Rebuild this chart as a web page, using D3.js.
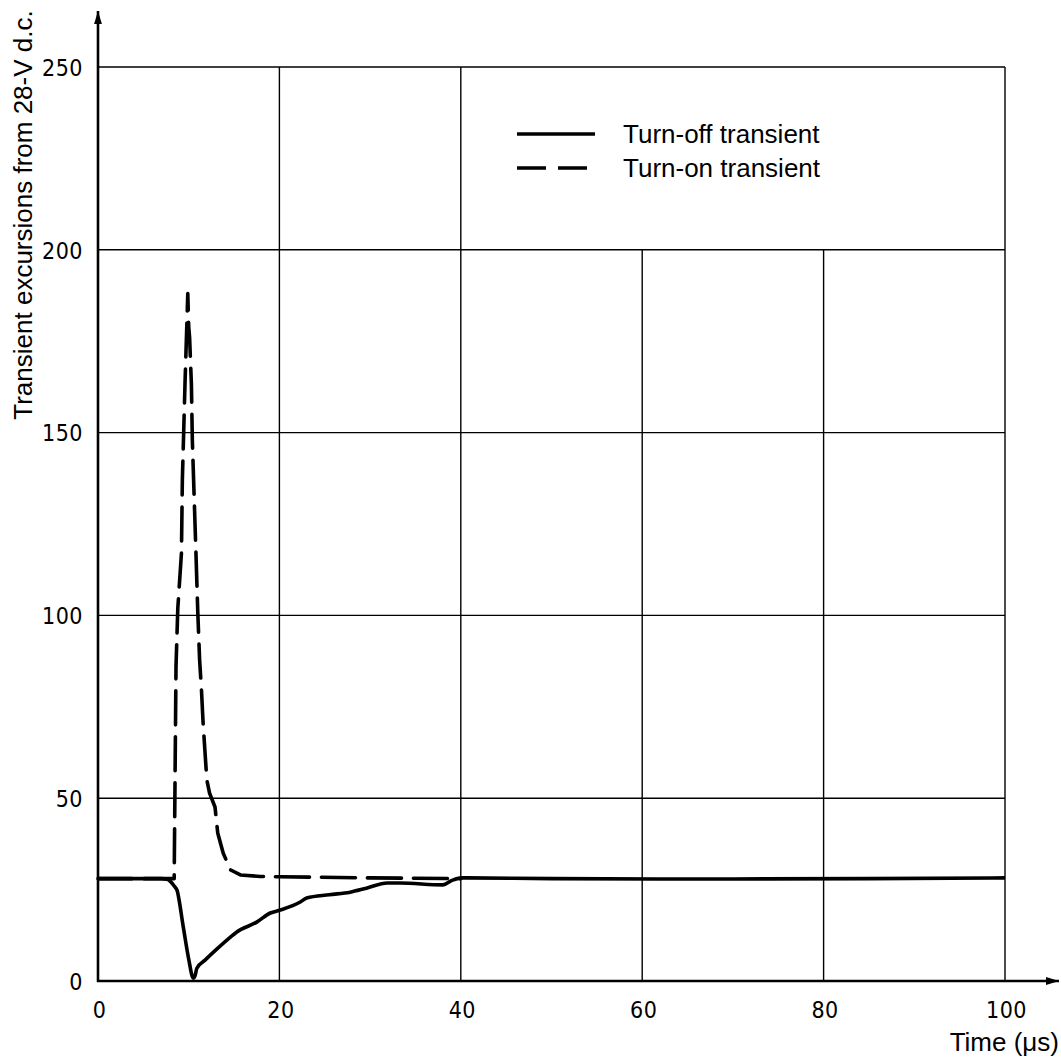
<!DOCTYPE html>
<html>
<head>
<meta charset="utf-8">
<script src="https://cdn.jsdelivr.net/npm/d3@7"></script>
<style>
  body { margin: 0; background: #fff; }
  .tick text { font-family: "Liberation Sans Narrow", "DejaVu Sans Condensed", sans-serif; letter-spacing: 0.5px; }
</style>
</head>
<body>
<svg id="chart" width="1061" height="1057"></svg>
<script>
// axis ticks
var timeTicks = [0, 20, 40, 60, 80, 100];
var voltTicks = [0, 50, 100, 150, 200, 250];

// turn-on transient (dashed)
var turnOnT = [0, 8.4, 8.6, 8.8, 9.2, 9.3, 9.6, 9.9, 10.0, 10.1, 10.3, 10.4, 10.8, 11.0, 11.2, 11.4, 11.6, 12.0, 12.3, 12.9, 13.2, 13.8, 14.6, 15.7, 17.9, 20, 30, 40];
var turnOnV = [28, 28, 86, 102, 117, 137, 164, 188, 179, 176, 163, 148, 117, 101, 88, 80, 70, 55, 51.4, 47.6, 40.5, 35, 30.4, 29.0, 28.6, 28.5, 28.2, 28];

// turn-off transient (solid)
var turnOffT = [0, 7.0, 7.6, 8.0, 8.4, 8.7, 9.4, 10.0, 10.5, 10.7, 10.9, 11.8, 13.0, 14.6, 15.3, 17.5, 19.0, 20.1, 22.3, 23.0, 25.5, 27.8, 29.6, 31.9, 33.3, 38.0, 39.1, 40.2, 50, 70, 85, 100];
var turnOffV = [28, 28, 27.8, 27.2, 26, 24.9, 14.8, 6, 0.8, 1.5, 3.5, 5.7, 8.5, 12, 13.4, 16.1, 18.6, 19.4, 21.6, 22.7, 23.6, 24.3, 25.4, 26.8, 26.8, 26.3, 27.6, 28.2, 28, 27.9, 28, 28.2];

var legendNames = ["Turn-off transient", "Turn-on transient"];

var svg = d3.select("#chart");

var x = d3.scaleLinear().domain([0, 100]).range([98, 1005]);
var y = d3.scaleLinear().domain([0, 250]).range([981, 67]);

// arrow head
svg.append("defs").append("marker")
    .attr("id", "arrow")
    .attr("viewBox", "0 0 10 10")
    .attr("refX", 10).attr("refY", 5)
    .attr("markerWidth", 7).attr("markerHeight", 5)
    .attr("markerUnits", "strokeWidth")
    .attr("orient", "auto")
  .append("path")
    .attr("d", "M0,2 L10,5 L0,8 Z")
    .attr("fill", "#000");

// grid
var grid = svg.append("g").attr("stroke", "#000").attr("stroke-width", 1.4);
grid.selectAll("line.h")
    .data(voltTicks.slice(1))
    .enter().append("line")
    .attr("x1", x(0)).attr("x2", x(100))
    .attr("y1", function(d) { return y(d); })
    .attr("y2", function(d) { return y(d); });
grid.selectAll("line.v")
    .data(timeTicks.slice(1))
    .enter().append("line")
    .attr("x1", function(d) { return x(d); })
    .attr("x2", function(d) { return x(d); })
    .attr("y1", y(0))
    .attr("y2", function(d) { return (d == 60 || d == 80) ? y(200) : y(250); });

// axes lines with arrows
svg.append("line")
    .attr("x1", x(0)).attr("y1", y(0) + 1)
    .attr("x2", x(0)).attr("y2", 11)
    .attr("stroke", "#000").attr("stroke-width", 2.6)
    .attr("marker-end", "url(#arrow)");
svg.append("line")
    .attr("x1", x(0) - 1).attr("y1", y(0))
    .attr("x2", 1059).attr("y2", y(0))
    .attr("stroke", "#000").attr("stroke-width", 2.6)
    .attr("marker-end", "url(#arrow)");

// tick labels
var yAxis = svg.append("g")
    .attr("transform", "translate(" + (x(0) - 15) + ",1)")
    .call(d3.axisLeft(y).tickValues(voltTicks).tickSize(0).tickPadding(0));
yAxis.select(".domain").remove();
yAxis.selectAll("text").attr("font-size", 23).attr("fill", "#000");

var xAxis = svg.append("g")
    .attr("transform", "translate(1," + (y(0) + 21) + ")")
    .call(d3.axisBottom(x).tickValues(timeTicks).tickSize(0).tickPadding(0));
xAxis.select(".domain").remove();
xAxis.selectAll("text").attr("font-size", 23).attr("fill", "#000");

// axis titles
svg.append("text")
    .attr("x", 1059).attr("y", 1051)
    .attr("text-anchor", "end")
    .attr("font-family", "'Liberation Sans', Arial, sans-serif")
    .attr("font-size", 26)
    .text("Time (\u03bcs)");

svg.append("text")
    .attr("transform", "translate(32,215) rotate(-90)")
    .attr("text-anchor", "middle")
    .attr("font-family", "'Liberation Sans', Arial, sans-serif")
    .attr("font-size", 26)
    .text("Transient excursions from 28-V d.c.");

// curves
var line = d3.line()
    .x(function(d) { return x(d[0]); })
    .y(function(d) { return y(d[1]); });

svg.append("path")
    .datum(d3.zip(turnOnT, turnOnV))
    .attr("d", line)
    .attr("fill", "none")
    .attr("stroke", "#000")
    .attr("stroke-width", 3.6)
    .attr("stroke-linecap", "round")
    .attr("stroke-linejoin", "round")
    .attr("stroke-dasharray", "34,12");

svg.append("path")
    .datum(d3.zip(turnOffT, turnOffV))
    .attr("d", line.curve(d3.curveMonotoneX))
    .attr("fill", "none")
    .attr("stroke", "#000")
    .attr("stroke-width", 3.6)
    .attr("stroke-linejoin", "round");

// legend
var legend = svg.append("g").attr("transform", "translate(517,134)");
legend.selectAll("line")
    .data(legendNames)
    .enter().append("line")
    .attr("x1", 0).attr("x2", 78)
    .attr("y1", function(d, i) { return i * 34; })
    .attr("y2", function(d, i) { return i * 34; })
    .attr("stroke", "#000")
    .attr("stroke-width", 3.6)
    .attr("stroke-dasharray", function(d, i) { return i ? "29,12" : null; });
legend.selectAll("text")
    .data(legendNames)
    .enter().append("text")
    .attr("x", 106)
    .attr("y", function(d, i) { return i * 34 + 9; })
    .attr("font-family", "'Liberation Sans', Arial, sans-serif")
    .attr("font-size", 26)
    .text(function(d) { return d; });
</script>
</body>
</html>
